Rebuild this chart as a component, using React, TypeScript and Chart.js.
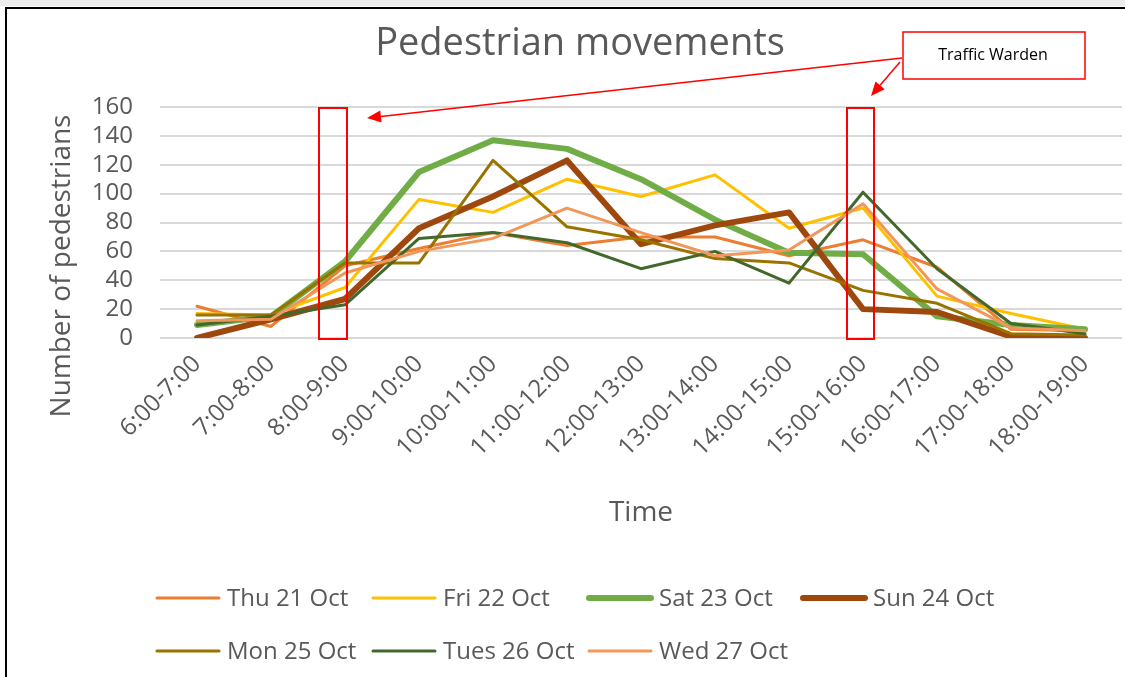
import React, { useEffect, useRef } from 'react';
import { Chart, registerables } from 'chart.js';

Chart.register(...registerables);

const W = 1125;
const H = 677;

const categories = [
  '6:00-7:00', '7:00-8:00', '8:00-9:00', '9:00-10:00', '10:00-11:00', '11:00-12:00',
  '12:00-13:00', '13:00-14:00', '14:00-15:00', '15:00-16:00', '16:00-17:00', '17:00-18:00', '18:00-19:00',
];

const thu21 = [22, 8, 50, 62, 73, 64, 70, 70, 57, 68, 49, 6, 5];
const fri22 = [17, 16, 35, 96, 87, 110, 98, 113, 76, 90, 29, 17, 6];
const sat23 = [9, 15, 53, 115, 137, 131, 110, 82, 59, 58, 15, 9, 6];
const sun24 = [0, 13, 27, 76, 98, 123, 65, 78, 87, 20, 18, 1, 0];
const mon25 = [16, 16, 52, 52, 123, 77, 68, 55, 52, 33, 24, 3, 2];
const tue26 = [9, 15, 23, 69, 73, 66, 48, 60, 38, 101, 48, 10, 3];
const wed27 = [12, 13, 45, 60, 69, 90, 73, 57, 61, 93, 34, 7, 5];

const seriesNames = ['Thu 21 Oct', 'Fri 22 Oct', 'Sat 23 Oct', 'Sun 24 Oct', 'Mon 25 Oct', 'Tues 26 Oct', 'Wed 27 Oct'];
const seriesData = [thu21, fri22, sat23, sun24, mon25, tue26, wed27];
const seriesColors = ['#ED7D31', '#FFC000', '#70AD47', '#9E480E', '#997300', '#43682B', '#F1975A'];
const seriesWidths = [3, 3, 6, 6, 3, 3, 3];

const yMin = 0;
const yMax = 160;
const yStep = 20;

const chartTitle = 'Pedestrian movements';
const xTitle = 'Time';
const yTitle = 'Number of pedestrians';
const calloutText = 'Traffic Warden';
const wardenIndices = [2, 9];

const FONT = "'Open Sans', 'DejaVu Sans', sans-serif";
const TEXT = '#595959';

function arrow(ctx: CanvasRenderingContext2D, x1: number, y1: number, x2: number, y2: number) {
  const ang = Math.atan2(y2 - y1, x2 - x1);
  const len = 14;
  const hw = 6;
  const bx = x2 - len * Math.cos(ang);
  const by = y2 - len * Math.sin(ang);
  ctx.beginPath();
  ctx.moveTo(x1, y1);
  ctx.lineTo(bx, by);
  ctx.stroke();
  ctx.beginPath();
  ctx.moveTo(x2, y2);
  ctx.lineTo(bx + hw * Math.sin(ang), by - hw * Math.cos(ang));
  ctx.lineTo(bx - hw * Math.sin(ang), by + hw * Math.cos(ang));
  ctx.closePath();
  ctx.fill();
}

const decorPlugin = {
  id: 'decor',
  beforeDraw(chart: any) {
    const ctx: CanvasRenderingContext2D = chart.ctx;
    ctx.save();
    ctx.fillStyle = '#ffffff';
    ctx.fillRect(0, 0, W, H);
    ctx.fillStyle = '#EDEDED';
    ctx.fillRect(0, 0, W, 6);
    ctx.strokeStyle = '#000000';
    ctx.lineWidth = 2;
    ctx.beginPath();
    ctx.moveTo(6, H);
    ctx.lineTo(6, 8);
    ctx.lineTo(W, 8);
    ctx.stroke();
    ctx.restore();
  },
  afterDraw(chart: any) {
    const ctx: CanvasRenderingContext2D = chart.ctx;
    const xs = chart.scales.x;
    const ys = chart.scales.y;
    ctx.save();

    // title
    ctx.fillStyle = TEXT;
    ctx.font = `38px ${FONT}`;
    ctx.textAlign = 'center';
    ctx.textBaseline = 'middle';
    ctx.fillText(chartTitle, 580, 44);

    // y axis title
    ctx.save();
    ctx.translate(62, 266);
    ctx.rotate(-Math.PI / 2);
    ctx.font = `28px ${FONT}`;
    ctx.fillText(yTitle, 0, 0);
    ctx.restore();

    // warden boxes
    const top = ys.getPixelForValue(yMax);
    const bot = ys.getPixelForValue(yMin);
    const offs = [[-26, 2], [-16, 11]];
    ctx.strokeStyle = '#FF0000';
    ctx.fillStyle = '#FF0000';
    ctx.lineWidth = 2;
    const boxes = wardenIndices.map((idx, k) => {
      const cx = xs.getPixelForValue(idx);
      const l = cx + offs[k][0];
      const r = cx + offs[k][1];
      ctx.strokeRect(l, top + 1, r - l, bot - top);
      return { l, r };
    });

    // callout box
    ctx.lineWidth = 1.5;
    ctx.fillStyle = '#ffffff';
    ctx.fillRect(903, 32, 182, 47);
    ctx.strokeRect(903, 32, 182, 47);
    ctx.fillStyle = '#000000';
    ctx.font = `16px ${FONT}`;
    ctx.fillText(calloutText, 993, 55);

    // arrows
    ctx.fillStyle = '#FF0000';
    ctx.strokeStyle = '#FF0000';
    ctx.lineWidth = 1.5;
    arrow(ctx, 902, 58, boxes[0].r + 20, top + 11);
    arrow(ctx, 900, 62, boxes[1].r - 3, top - 11);

    // legend
    const cols = [157, 373, 589, 803];
    const rows = [598, 651];
    ctx.font = `24px ${FONT}`;
    ctx.textAlign = 'left';
    ctx.textBaseline = 'middle';
    chart.data.datasets.forEach((ds: any, i: number) => {
      const x = cols[i % 4];
      const y = rows[Math.floor(i / 4)];
      ctx.strokeStyle = ds.borderColor;
      ctx.lineWidth = ds.borderWidth > 4 ? 6 : 3;
      ctx.lineCap = 'round';
      ctx.beginPath();
      ctx.moveTo(x, y);
      ctx.lineTo(x + 62, y);
      ctx.stroke();
      ctx.fillStyle = TEXT;
      ctx.fillText(ds.label, x + 70, y + 1);
    });
    ctx.restore();
  },
};

export default function App() {
  const ref = useRef<HTMLCanvasElement | null>(null);
  useEffect(() => {
    if (!ref.current) return;
    Chart.defaults.font.family = FONT;
    const chart = new Chart(ref.current, {
      type: 'line',
      data: {
        labels: categories,
        datasets: seriesNames.map((name, i) => ({
          label: name,
          data: seriesData[i],
          borderColor: seriesColors[i],
          backgroundColor: seriesColors[i],
          borderWidth: seriesWidths[i],
          pointRadius: 0,
          tension: 0,
          borderJoinStyle: 'round' as const,
          borderCapStyle: 'round' as const,
          order: -i,
        })),
      },
      options: {
        responsive: false,
        animation: false,
        layout: { padding: { top: 107, right: 3, bottom: 139, left: 0 } },
        plugins: {
          legend: { display: false },
          title: { display: false },
          tooltip: { enabled: false },
        },
        scales: {
          x: {
            offset: true,
            grid: { display: false, drawTicks: false },
            border: { display: false },
            ticks: {
              autoSkip: false,
              maxRotation: 45,
              minRotation: 45,
              padding: 12,
              color: TEXT,
              font: { size: 24 },
            },
            title: {
              display: true,
              text: xTitle,
              color: TEXT,
              font: { size: 28 },
              padding: { top: 0, bottom: 8 },
            },
            afterFit: (s: any) => { s.height = 200; s.paddingRight = 0; s.paddingLeft = 0; },
          },
          y: {
            min: yMin,
            max: yMax,
            grid: { color: '#D9D9D9', lineWidth: 2, drawTicks: false },
            border: { display: false },
            ticks: {
              stepSize: yStep,
              autoSkip: false,
              padding: 27,
              color: TEXT,
              font: { size: 24 },
            },
            title: { display: false },
            afterFit: (s: any) => { s.width = 160; s.paddingTop = 0; s.paddingBottom = 0; },
          },
        },
      },
      plugins: [decorPlugin],
    });
    return () => chart.destroy();
  }, []);
  return (
    <div style={{ position: 'fixed', left: 0, top: 0, width: W, height: H, background: '#fff' }}>
      <canvas ref={ref} width={W} height={H} style={{ display: 'block', width: W, height: H }} />
    </div>
  );
}
